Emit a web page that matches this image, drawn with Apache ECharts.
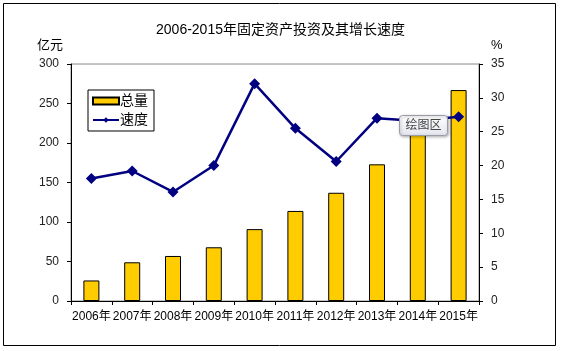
<!DOCTYPE html>
<html>
<head>
<meta charset="utf-8">
<script src="https://cdn.jsdelivr.net/npm/echarts@6/dist/echarts.min.js"></script>
<style>
    html,body{margin:0;padding:0;background:#fff;}
    #chart{width:561px;height:351px;}
</style>
</head>
<body>
<div id="chart"></div>
<script>
var years = ['2006年', '2007年', '2008年', '2009年', '2010年', '2011年', '2012年', '2013年', '2014年', '2015年'];
// 总量（亿元）
var total = [26, 49, 57, 68, 91, 114, 137, 173, 218, 267];
// 速度（%）
var speed = [18.1, 19.2, 16.1, 20.0, 32.1, 25.5, 20.6, 27.0, 26.6, 27.2];
var leftTicks = [0, 300, 50];
var rightTicks = [0, 35, 5];

var font = 'Arial, "Liberation Sans", "Noto Sans CJK SC", sans-serif';
var myChart = echarts.init(document.getElementById('chart'));
myChart.setOption({
    animation: false,
    textStyle: {fontFamily: font},
    title: {
        text: '2006-2015年固定资产投资及其增长速度',
        left: 'center',
        top: 18,
        textStyle: {fontSize: 14, fontWeight: 'normal', color: '#000', fontFamily: font}
    },
    legend: {
        orient: 'vertical',
        left: 88,
        top: 90,
        itemWidth: 26,
        itemHeight: 7,
        itemGap: 5,
        padding: [4, 6, 4, 4],
        borderColor: '#000',
        borderWidth: 1,
        backgroundColor: '#fff',
        textStyle: {fontSize: 14, color: '#000', padding: [0, 0, 0, -4]},
        data: [{name: '总量', icon: 'rect'}, {name: '速度'}]
    },
    grid: {
        left: 71, right: 82, top: 64, bottom: 50,
        show: true, borderColor: '#888', borderWidth: 1
    },
    xAxis: {
        type: 'category',
        data: years,
        axisLine: {lineStyle: {color: '#000'}},
        axisTick: {show: true, inside: false, length: 4, lineStyle: {color: '#000'}},
        axisLabel: {interval: 0, fontSize: 12, color: '#000', margin: 10}
    },
    yAxis: [{
        type: 'value',
        min: leftTicks[0], max: leftTicks[1], interval: leftTicks[2],
        name: '亿元',
        nameGap: 12,
        nameTextStyle: {fontSize: 13, color: '#000', align: 'right', padding: [0, 8, 0, 0]},
        axisLine: {show: true, lineStyle: {color: '#000'}},
        axisTick: {show: true, length: 4, lineStyle: {color: '#000'}},
        axisLabel: {fontSize: 12, color: '#222', margin: 12},
        splitLine: {show: false}
    }, {
        type: 'value',
        position: 'right',
        min: rightTicks[0], max: rightTicks[1], interval: rightTicks[2],
        name: '%',
        nameGap: 12,
        nameTextStyle: {fontSize: 13, color: '#000', align: 'left', padding: [0, 0, 0, 12]},
        axisLine: {show: true, lineStyle: {color: '#000'}},
        axisTick: {show: true, length: 4, lineStyle: {color: '#000'}},
        axisLabel: {fontSize: 12, color: '#222', margin: 12},
        splitLine: {show: false}
    }],
    series: [{
        name: '总量',
        type: 'bar',
        data: total,
        barWidth: 16,
        itemStyle: {color: '#FFCC00', borderColor: '#000', borderWidth: 1}
    }, {
        name: '速度',
        type: 'line',
        yAxisIndex: 1,
        data: speed,
        symbol: 'diamond',
        symbolSize: 11,
        lineStyle: {color: '#000080', width: 2.5},
        itemStyle: {color: '#000080'}
    }],
    graphic: [{
        type: 'rect',
        shape: {x: 3.5, y: 3.5, width: 552, height: 342},
        style: {fill: 'none', stroke: '#000', lineWidth: 1},
        silent: true
    }, {
        type: 'group',
        left: 399,
        top: 115,
        zlevel: 1,
        children: [{
            type: 'rect',
            zlevel: 1,
            z: 100,
            shape: {x: 0, y: 0, width: 48, height: 20, r: 3},
            style: {
                fill: new echarts.graphic.LinearGradient(0, 0, 0, 1, [
                    {offset: 0, color: '#ffffff'}, {offset: 1, color: '#e4e6ee'}
                ]),
                stroke: '#9a9ca8', lineWidth: 1,
                shadowBlur: 3, shadowOffsetX: 1, shadowOffsetY: 1, shadowColor: 'rgba(0,0,0,0.3)'
            }
        }, {
            type: 'text',
            zlevel: 1,
            z: 101,
            x: 24, y: 10,
            style: {text: '绘图区', fontSize: 12, fill: '#444', align: 'center', verticalAlign: 'middle', fontFamily: font}
        }]
    }]
});
</script>
</body>
</html>
